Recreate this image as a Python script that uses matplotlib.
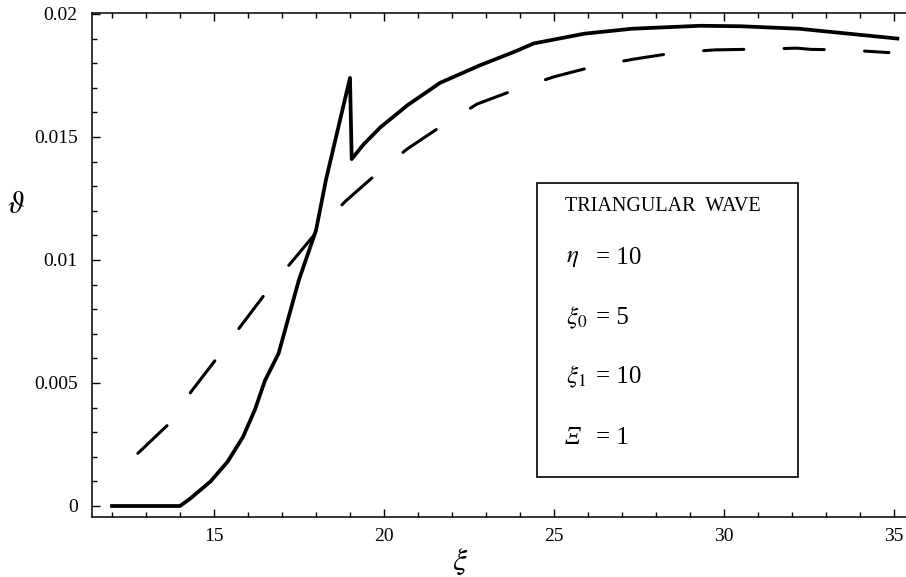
import matplotlib
matplotlib.use("Agg")
import matplotlib.pyplot as plt
from matplotlib.patches import Rectangle
from matplotlib.ticker import MultipleLocator

# solid curve (with jump near xi = 19)
xi_solid = [12.0, 14.0, 14.3, 14.9, 15.4, 15.85, 16.2, 16.5, 16.9, 17.5, 18.0, 18.3,
            19.0, 19.05, 19.4, 19.9, 20.7, 21.65, 22.8, 23.9, 24.4, 25.9, 27.3,
            29.3, 30.5, 32.2, 35.1]
theta_solid = [0.0, 0.0, 0.0003, 0.001, 0.0018, 0.0028, 0.0039, 0.0051, 0.0062, 0.0092,
               0.0112, 0.0133, 0.0174, 0.0141, 0.0147, 0.0154, 0.0163, 0.0172, 0.0179,
               0.0185, 0.0188, 0.0192, 0.0194, 0.01952, 0.0195, 0.0194, 0.0190]

# dashed curve
xi_dash = [12.76, 13.66, 14.34, 15.08, 15.79, 16.53, 17.29, 18.07, 18.86, 19.7, 20.68,
           21.74, 22.74, 23.9, 25.01, 26.24, 27.33, 28.59, 29.74, 31.04, 32.14, 32.56,
           33.53, 34.85]
theta_dash = [0.00214, 0.00332, 0.00467, 0.0060, 0.00732, 0.00867, 0.00993, 0.01122,
              0.01238, 0.0134, 0.01451, 0.01549, 0.01634, 0.01694, 0.01745, 0.01789,
              0.01816, 0.01843, 0.01854, 0.01857, 0.01861, 0.01856, 0.01854, 0.01843]

yticks = [0, 0.005, 0.01, 0.015, 0.02]
ytick_labels = ['0', '0.005', '0.01', '0.015', '0.02']

box_title = 'TRIANGULAR  WAVE'
box_symbols = [r'$\eta$', r'$\xi_0$', r'$\xi_1$', 'Ξ']
box_values = ['= 10', '= 5', '= 10', '= 1']

plt.rcParams['font.family'] = ['Liberation Serif', 'DejaVu Serif']
plt.rcParams['mathtext.fontset'] = 'stix'
plt.rcParams['lines.scale_dashes'] = False

fig = plt.figure(figsize=(9.06, 5.77), dpi=100)
ax = fig.add_axes([0.1012, 0.1040, 0.8988, 0.8730])

ax.plot(xi_solid, theta_solid, color='black', lw=2.7, solid_joinstyle='round')
ax.plot(xi_dash, theta_dash, color='black', lw=2.2, linestyle=(0, (29, 29)),
        dash_capstyle='round')

ax.set_xlim(11.403, 35.353)
ax.set_ylim(-0.000447, 0.020028)

ax.xaxis.set_major_locator(MultipleLocator(5))
ax.xaxis.set_minor_locator(MultipleLocator(1))
ax.yaxis.set_minor_locator(MultipleLocator(0.001))
ax.set_yticks(yticks)
ax.set_yticklabels(ytick_labels)

ax.tick_params(which='both', direction='in', top=True, right=False, labelsize=14,
               width=1.0)
ax.tick_params(which='major', length=6)
ax.tick_params(which='minor', length=3.5)
ax.tick_params(axis='x', pad=8)
ax.tick_params(axis='y', pad=10)

for side in ['left', 'bottom', 'top']:
    ax.spines[side].set_linewidth(1.1)
ax.spines['right'].set_visible(False)

ax.text(22.24, -0.00228, r'$\xi$', fontsize=23, ha='center', va='center')
ax.text(-0.093, 0.619, r'$\vartheta$', fontsize=22, ha='center', va='center',
        transform=ax.transAxes)

box = Rectangle((0.5472, 0.080), 0.3205, 0.5837, transform=ax.transAxes,
                fill=False, edgecolor='black', lw=1.2)
ax.add_patch(box)
ax.text(0.581, 0.616, box_title, transform=ax.transAxes, fontsize=14.5,
        ha='left', va='center')
for yy, sym, val in zip([0.514, 0.395, 0.278, 0.157], box_symbols, box_values):
    if sym.startswith('$'):
        ax.text(0.583, yy, sym, transform=ax.transAxes, fontsize=18,
                ha='left', va='center')
    else:
        ax.text(0.581, yy, sym, transform=ax.transAxes, fontsize=18,
                style='italic', ha='left', va='center')
    ax.text(0.619, yy, val, transform=ax.transAxes, fontsize=18,
            ha='left', va='center')

fig.savefig('out.png', dpi=100)
